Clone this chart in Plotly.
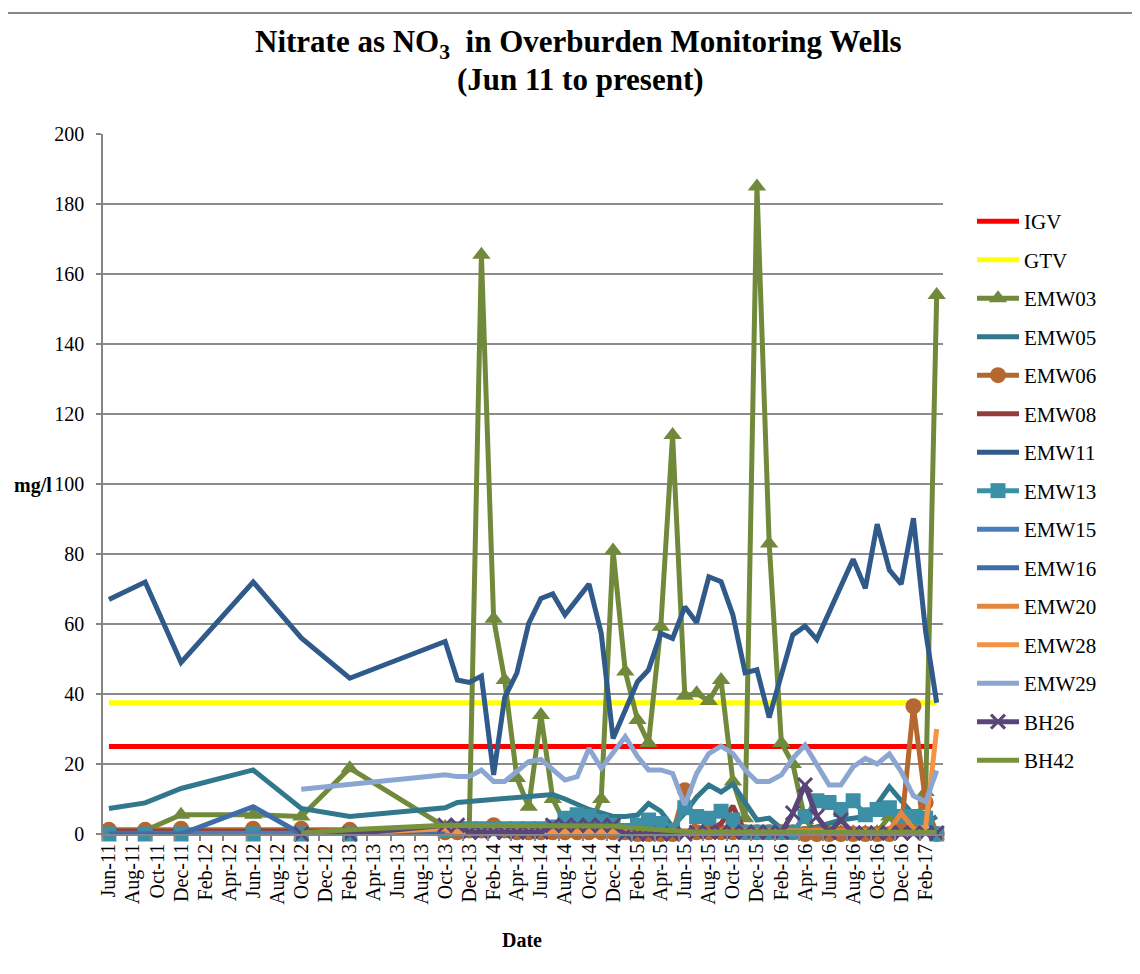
import plotly.graph_objects as go

# Sampling dates (plotted mid-month, as on the reference's monthly date axis)
DATES = ["2011-06-16", "2011-09-16", "2011-12-16", "2012-06-16", "2012-10-16", "2013-02-16",
         "2013-10-16", "2013-11-16", "2013-12-16", "2014-01-16", "2014-02-16", "2014-03-16",
         "2014-04-16", "2014-05-16", "2014-06-16", "2014-07-16", "2014-08-16", "2014-09-16",
         "2014-10-16", "2014-11-16", "2014-12-16", "2015-01-16", "2015-02-16", "2015-03-16",
         "2015-04-16", "2015-05-16", "2015-06-16", "2015-07-16", "2015-08-16", "2015-09-16",
         "2015-10-16", "2015-11-16", "2015-12-16", "2016-01-16", "2016-02-16", "2016-03-16",
         "2016-04-16", "2016-05-16", "2016-06-16", "2016-07-16", "2016-08-16", "2016-09-16",
         "2016-10-16", "2016-11-16", "2016-12-16", "2017-01-16", "2017-02-16", "2017-03-16"]

N = None
IGV = [25] * 48
GTV = [37.5] * 48
EMW03 = [N, 1, 5.5, 5.5, 5, 18.8, 2, 1, 1, 165.5, 61.5, 44, 16, 7.8, 34, 10, 3, 2, 2, 10, 81, 46.4,
         32.6, 26, 59.2, 114, 39.5, 40.2, 38, 44, 15, 4.5, 185, 83, 26, 20, 4, 0.5, 0.5, 0.5, 0.5,
         0.5, 0.5, 5, 0.5, 0.5, 12, 154]
EMW05 = [7.3, 8.9, 13, 18.3, 7.3, 5, 7.5, 9, 9.3, 9.6, 9.8, 10.1, 10.4, 10.7, 11, 11.3, 10, 8.5, 7,
         6, 5, 5, 5.4, 8.7, 6.5, 2, 6, 10.5, 14, 12, 14.3, 9, 4, 4.5, 1.5, 1, 1.5, 2, 3, 4, 4.5, 5,
         8.5, 13.5, 9.5, 5.5, 3, 5]
EMW06 = [1.2, 1.2, 1.5, 1.5, 1.5, 1.2, 0.5, 0.5, 1, 1, 2.5, 1, 0.5, 0.5, 0.5, 0.5, 0.5, 0.5, 0.5,
         0.5, 0.5, 0.5, 0, 0, 0, 0, 12.5, 0.5, 0.5, 0.5, 0.5, 0.5, 0.5, 0.5, 0.5, 0.5, 0, 0, 0, 0,
         0, 0, 0, 0, 1.5, 36.5, 9, 0]
EMW08 = [0.8, 0.8, 0.8, 0.8, 0.8, 0.8, 0.6, 0.6, 0.6, 0.6, 0.6, 0.6, 0.6, 0.6, 0.6, 0.6, 0.6, 0.6,
         0.6, 0.6, 0.6, 0.6, 0.6, 0.6, 0.6, 0.6, 0.6, 0.6, 1, 3, 8, 0.5, 0.5, 0.5, 0.5, 0.5, 0.5,
         0.5, 0.5, 0.5, 0.5, 0.5, 0.5, 0.5, 0.5, 0.5, 0.5, 0.5]
EMW11 = [67, 72, 49, 72, 56, 44.5, 55, 44, 43.3, 45.1, 16.9, 39, 46, 60.2, 67.3, 68.6, 62.6, N,
         71.4, 57.3, 27.3, N, 43.5, 46.9, 57.3, 55.9, 64.9, 60.4, 73.5, 72.1, 62.6, 46.1, 46.9,
         33.3, N, 56.9, 59.4, 55.6, 63.5, N, 78.5, 70.2, 88.5, 75.4, 71.4, 90.2, 57.8, 37.5]
EMW13 = [0, 0, 0, 0, 0, 0, 1, 1.5, 1.5, 1.5, 1.5, 1.5, 1.5, 1.5, 1.5, 2, 4.5, 5.5, 5, 3.5, 2.5, 1,
         2.5, 4, 3, 1, 7.5, 5, 4.5, 6.5, 4, 0.5, 0.5, 0.5, 0.5, 0.5, 5, 9.5, 9, 7, 9.5, 5.5, 7,
         7.5, 5, 5, 4.5, 0]
EMW15 = [0.2] * 6 + [0.3] * 42
EMW16 = [0, 0, 0, 7.8, 0, N] + [0.3] * 42
EMW20 = [N] * 6 + [0.8] * 37 + [1, 6, 1.5, 0.5, N]
EMW28 = [N] * 5 + [0.3, 1.5] + [0.5] * 39 + [2, 30]
EMW29 = [N, N, N, N, 12.8, 14.2, 16.9, 16.4, 16.4, 18.3, 15, 15, 17.8, 20.7, 21.3, 18.3, 15.4,
         16.4, 24.5, 18.8, 23, 27.8, 22.1, 18.3, 18.3, 17.3, 8.3, 17.3, 23, 25.1, 23, 18.3, 15,
         15, 16.9, 21.6, 25.4, 19.7, 14, 14, 19.2, 21.6, 20, 22.9, 17.8, 10.9, 9.2, 18.1]
BH26 = [N, N, N, N, 0, 0, 2.5, 2.5, 0.5, 0.5, 0.5, 0.5, 0.5, 0.5, 0.5, 2.5, 2.5, 2.5, 2.5, 2.5,
        2.5, 0, 0, 0, 0, 0, 0, 0.5, 0.5, 0.5, 0.5, 0.5, 0.5, 0.5, 0.5, 6, 14, 5, 0.5, 4, 0.3, 0.3,
        0.3, 0.3, 0.3, 0.3, 0.3, 0.3]
BH42 = [N, N, N, N, 0.3, 1.2, 2.5, 2.4, 2.4, 2.4, 2.4, 2.4, 2.4, 2.4, 2.4, 2.4, 2.4, 2.4, 2.3,
        2.3, 2.3, 1.9, 1.6, 1.3, 1.0, 0.8, 0.7, 0.6, 0.6, 0.6, 0.6, 0.6, 0.6, 0.6, 0.6, 0.6, 0.6,
        0.6, 0.6, 0.6, 0.6, 0.6, 0.5, 0.5, 0.5, 0.5, 0.5, 0.5]

SERIES = [
    ("IGV", IGV, "#FF0000", None),
    ("GTV", GTV, "#FFFF00", None),
    ("EMW03", EMW03, "#71893A", "triangle-up"),
    ("EMW05", EMW05, "#31788C", None),
    ("EMW06", EMW06, "#B4672F", "circle"),
    ("EMW08", EMW08, "#943C3A", None),
    ("EMW11", EMW11, "#2F5A8A", None),
    ("EMW13", EMW13, "#3B90A8", "square"),
    ("EMW15", EMW15, "#4A7EBB", None),
    ("EMW16", EMW16, "#3F6DAA", None),
    ("EMW20", EMW20, "#E4873E", None),
    ("EMW28", EMW28, "#F39343", None),
    ("EMW29", EMW29, "#8CA6D2", None),
    ("BH26", BH26, "#5A4578", "x-thin"),
    ("BH42", BH42, "#77933C", None),
]

TITLE_1 = "<b>Nitrate as NO<sub>3</sub>  in Overburden Monitoring Wells</b>"
TITLE_2 = "<b>(Jun 11 to present)</b>"

FONT = "Liberation Serif, Times New Roman, serif"

fig = go.Figure()
for name, vals, color, sym in SERIES:
    kw = dict(x=DATES, y=vals, name=name, connectgaps=True, cliponaxis=False,
              line=dict(color=color, width=5), legendgroup=name)
    if sym:
        if sym == "x-thin":
            mk = dict(symbol=sym, size=14, color=color, line=dict(color=color, width=3))
        elif sym == "square":
            mk = dict(symbol=sym, size=15, color=color)
        else:
            mk = dict(symbol=sym, size=16, color=color)
        kw.update(mode="lines+markers", marker=mk)
    else:
        kw.update(mode="lines")
    fig.add_trace(go.Scatter(**kw))

# page is shown with an 8 px body margin, so the figure is laid out 8 px smaller
OFF = 8
W, H = 1140 - OFF, 974 - OFF
L, T = 103 - OFF, 134 - OFF
R, B = 1140 - 943, 974 - 834
pw, ph = W - L - R, H - T - B

def px(x):
    return (x - OFF - L) / pw

def py(y):
    return (H - B - (y - OFF)) / ph

fig.update_layout(
    width=W, height=H,
    margin=dict(l=L, r=R, t=T, b=B),
    paper_bgcolor="white", plot_bgcolor="white",
    font=dict(family=FONT, size=20, color="black"),
    showlegend=True,
    legend=dict(x=px(972), xanchor="left", y=py(201), yanchor="top",
                font=dict(family=FONT, size=21), tracegroupgap=8.2, itemwidth=42,
                bgcolor="rgba(0,0,0,0)"),
    xaxis=dict(type="date", range=["2011-06-01", "2017-04-01"],
               tick0="2011-06-16", dtick="M2", tickformat="%b-%y", tickangle=-90,
               ticks="", showgrid=False, showline=True, linecolor="#868686", linewidth=1.5,
               tickfont=dict(family=FONT, size=20),
               minor=dict(tick0="2011-06-01", dtick="M2", ticks="outside", ticklen=5,
                          tickcolor="#868686", tickwidth=1.5, showgrid=False),
               zeroline=False),
    yaxis=dict(range=[0, 200], dtick=20, showgrid=True, gridcolor="#8C8C8C", gridwidth=1.5,
               showline=True, linecolor="#868686", linewidth=1.5, ticks="outside",
               ticklen=5, tickcolor="#868686", tickwidth=1.5, zeroline=False,
               ticklabelstandoff=8,
               tickfont=dict(family=FONT, size=20)),
    annotations=[
        dict(text=TITLE_1, xref="paper", yref="paper", x=px(578), y=py(44),
             xanchor="center", yanchor="middle", showarrow=False,
             font=dict(family=FONT, size=31)),
        dict(text=TITLE_2, xref="paper", yref="paper", x=px(580), y=py(79),
             xanchor="center", yanchor="middle", showarrow=False,
             font=dict(family=FONT, size=31)),
        dict(text="<b>mg/l</b>", xref="paper", yref="paper", x=px(33), y=py(485),
             xanchor="center", yanchor="middle", showarrow=False,
             font=dict(family=FONT, size=20)),
        dict(text="<b>Date</b>", xref="paper", yref="paper", x=px(522), y=py(940),
             xanchor="center", yanchor="middle", showarrow=False,
             font=dict(family=FONT, size=20)),
    ],
    shapes=[
        dict(type="line", xref="paper", yref="paper", x0=px(6), x1=px(1150), y0=py(13), y1=py(13),
             line=dict(color="#868686", width=2)),
        dict(type="line", xref="paper", yref="paper", x0=px(6), x1=px(6), y0=py(13), y1=py(985),
             line=dict(color="#868686", width=2)),
    ],
)

fig.write_html("out.html")
